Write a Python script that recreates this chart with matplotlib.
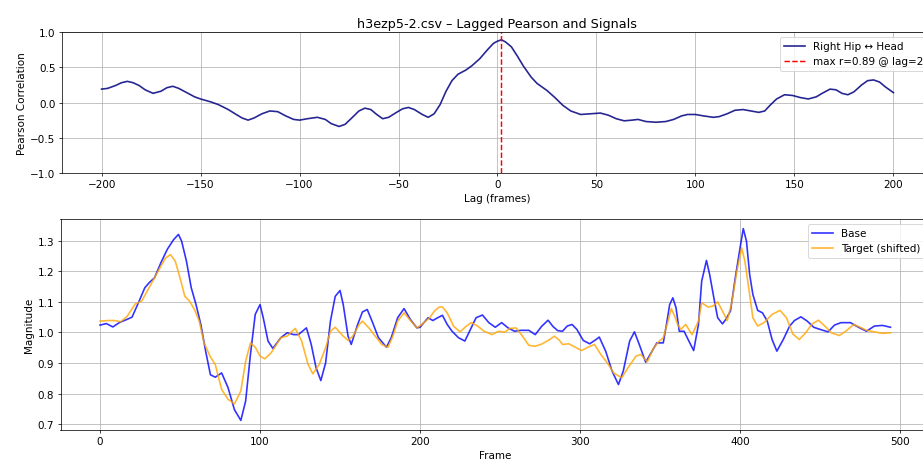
import matplotlib
matplotlib.use("Agg")
import matplotlib.pyplot as plt

# ---- Top panel: lagged Pearson correlation ----
lags = [-200, -197, -193, -190, -187, -184, -181, -178, -174, -170, -167, -164, -161,
        -157, -153, -150, -145, -141, -136, -132, -129, -126, -123, -119, -115, -111,
        -107, -103, -100, -96, -91, -87, -84, -80, -77, -74, -70, -67, -64, -61, -58,
        -55, -51, -48, -45, -42, -38, -35, -32, -29, -26, -23, -20, -16, -13, -9, -5,
        -2, 0, 2, 4, 7, 10, 13, 17, 20, 25, 29, 33, 37, 42, 47, 52, 56, 60, 64, 68,
        71, 75, 80, 85, 89, 93, 96, 100, 104, 109, 112, 116, 120, 124, 128, 132, 135,
        138, 141, 145, 149, 153, 157, 161, 164, 168, 171, 174, 177, 180, 184, 187,
        190, 193, 196, 200]
corr = [0.19, 0.20, 0.24, 0.28, 0.30, 0.28, 0.24, 0.18, 0.13, 0.16, 0.21, 0.23, 0.20,
        0.14, 0.08, 0.05, 0.01, -0.03, -0.10, -0.17, -0.22, -0.25, -0.22, -0.16, -0.12,
        -0.13, -0.19, -0.24, -0.25, -0.23, -0.21, -0.24, -0.30, -0.34, -0.31, -0.23,
        -0.12, -0.08, -0.10, -0.17, -0.23, -0.21, -0.14, -0.09, -0.07, -0.10, -0.17,
        -0.21, -0.16, -0.03, 0.16, 0.31, 0.40, 0.46, 0.52, 0.62, 0.75, 0.84, 0.87, 0.89,
        0.86, 0.79, 0.66, 0.52, 0.36, 0.27, 0.17, 0.07, -0.04, -0.12, -0.17, -0.16,
        -0.15, -0.18, -0.23, -0.26, -0.25, -0.24, -0.27, -0.28, -0.27, -0.24, -0.19,
        -0.17, -0.17, -0.19, -0.21, -0.20, -0.16, -0.11, -0.10, -0.12, -0.14, -0.12,
        -0.03, 0.05, 0.11, 0.10, 0.07, 0.05, 0.08, 0.13, 0.19, 0.18, 0.13, 0.11, 0.15,
        0.25, 0.31, 0.32, 0.29, 0.22, 0.14]
best_lag = 2
best_r = 0.89

# ---- Bottom panel: signals ----
frames_base = [0, 4, 8, 12, 17, 20, 24, 28, 31, 34, 38, 42, 46, 49, 51, 54, 57, 60, 63,
               66, 69, 72, 76, 80, 84, 88, 91, 94, 97, 100, 102, 105, 108, 113, 117, 121,
               124, 129, 132, 135, 138, 141, 144, 147, 150, 152, 155, 157, 161, 164, 167,
               170, 174, 179, 182, 186, 190, 194, 198, 200, 205, 208, 211, 214, 217, 220,
               224, 228, 232, 235, 239, 243, 247, 251, 255, 259, 263, 268, 272, 276, 280,
               283, 286, 289, 292, 295, 298, 302, 306, 310, 312, 316, 320, 324, 327, 331,
               334, 337, 341, 345, 348, 352, 354, 356, 358, 360, 362, 365, 368, 371, 374,
               376, 379, 381, 384, 386, 389, 391, 394, 397, 400, 402, 404, 406, 408, 411,
               414, 417, 420, 423, 427, 431, 434, 438, 442, 446, 450, 455, 459, 463, 469,
               474, 479, 484, 489, 494]
base = [1.024, 1.029, 1.018, 1.032, 1.043, 1.050, 1.097, 1.146, 1.164, 1.178, 1.227,
        1.271, 1.303, 1.320, 1.298, 1.233, 1.146, 1.091, 1.026, 0.939, 0.862, 0.854,
        0.868, 0.820, 0.748, 0.713, 0.776, 0.928, 1.059, 1.091, 1.048, 0.972, 0.948,
        0.983, 0.999, 0.993, 0.993, 1.015, 0.961, 0.885, 0.843, 0.901, 1.037, 1.118,
        1.137, 1.091, 0.988, 0.961, 1.026, 1.067, 1.075, 1.037, 0.983, 0.952, 0.983,
        1.048, 1.078, 1.042, 1.015, 1.017, 1.048, 1.039, 1.048, 1.056, 1.026, 1.004,
        0.983, 0.972, 1.015, 1.048, 1.057, 1.032, 1.017, 1.032, 1.015, 1.004, 1.007,
        1.007, 0.993, 1.020, 1.040, 1.020, 1.006, 1.004, 1.021, 1.026, 1.010, 0.974,
        0.963, 0.977, 0.985, 0.939, 0.874, 0.830, 0.874, 0.972, 1.002, 0.961, 0.903,
        0.939, 0.966, 0.966, 1.026, 1.091, 1.113, 1.080, 1.004, 1.004, 0.972, 0.941,
        1.026, 1.167, 1.235, 1.189, 1.102, 1.048, 1.028, 1.042, 1.070, 1.178, 1.276,
        1.339, 1.298, 1.189, 1.124, 1.072, 1.064, 1.037, 0.977, 0.939, 0.977, 1.021,
        1.039, 1.051, 1.037, 1.017, 1.010, 1.002, 1.024, 1.032, 1.032, 1.017, 1.004,
        1.021, 1.023, 1.017]

frames_target = [0, 5, 9, 13, 17, 22, 26, 30, 34, 38, 41, 44, 47, 50, 53, 56, 59, 62,
                 65, 69, 72, 76, 80, 84, 88, 91, 94, 97, 100, 103, 107, 113, 117, 120,
                 122, 126, 130, 133, 137, 141, 144, 147, 152, 155, 158, 162, 164, 168,
                 172, 176, 180, 183, 186, 190, 194, 198, 201, 206, 209, 212, 214, 217,
                 221, 225, 229, 232, 236, 240, 245, 249, 253, 256, 260, 264, 268, 272,
                 276, 281, 284, 287, 289, 293, 297, 301, 305, 309, 313, 317, 321, 326,
                 330, 335, 338, 342, 346, 349, 352, 355, 357, 359, 361, 363, 366, 370,
                 374, 376, 380, 383, 386, 389, 392, 395, 398, 401, 403, 406, 408, 411,
                 415, 420, 425, 429, 431, 433, 437, 441, 445, 449, 453, 457, 462, 466,
                 471, 475, 479, 484, 489, 494]
target = [1.037, 1.039, 1.039, 1.035, 1.053, 1.093, 1.102, 1.140, 1.178, 1.216, 1.243,
          1.254, 1.233, 1.178, 1.118, 1.102, 1.075, 1.037, 0.966, 0.920, 0.896, 0.814,
          0.782, 0.767, 0.809, 0.906, 0.966, 0.952, 0.923, 0.914, 0.934, 0.983, 0.988,
          1.004, 1.013, 0.972, 0.896, 0.865, 0.896, 0.950, 1.004, 1.017, 0.988, 0.974,
          0.988, 1.026, 1.037, 1.015, 0.988, 0.961, 0.952, 0.988, 1.037, 1.064, 1.039,
          1.015, 1.026, 1.048, 1.070, 1.083, 1.083, 1.064, 1.020, 1.002, 1.021, 1.032,
          1.021, 1.004, 0.993, 1.004, 1.001, 1.013, 1.015, 0.988, 0.958, 0.955, 0.962,
          0.977, 0.988, 0.975, 0.961, 0.963, 0.952, 0.941, 0.952, 0.961, 0.928, 0.901,
          0.868, 0.852, 0.885, 0.923, 0.928, 0.904, 0.950, 0.969, 0.983, 1.037, 1.078,
          1.055, 1.026, 1.010, 1.026, 0.993, 1.037, 1.097, 1.083, 1.086, 1.100, 1.070,
          1.039, 1.102, 1.200, 1.276, 1.233, 1.124, 1.048, 1.021, 1.032, 1.059, 1.072,
          1.048, 1.021, 0.995, 0.977, 0.999, 1.028, 1.040, 1.021, 0.999, 0.990, 1.004,
          1.026, 1.017, 1.007, 1.002, 0.997, 0.999]

title = "h3ezp5-2.csv \u2013 Lagged Pearson and Signals"
pair_label = "Right Hip \u2194 Head"

plt.rcParams["font.size"] = 11.3

W, H = 923, 465
dpi = W / 14.0
fig = plt.figure(figsize=(W / dpi, H / dpi), dpi=dpi)

ax1 = fig.add_axes([62 / W, 1 - 174 / H, (933 - 62) / W, (174 - 33) / H])
ax1.plot(lags, corr, color="navy", alpha=0.85, lw=1.8, label=pair_label)
ax1.axvline(best_lag, color="red", ls="--", lw=1.6,
            label=f"max r={best_r:.2f} @ lag={best_lag}")
ax1.set_ylim(-1, 1)
ax1.set_xlim(-220, 220)
ax1.set_xlabel("Lag (frames)")
ax1.set_ylabel("Pearson Correlation")
ax1.set_title(title, fontsize=14)
ax1.grid(True)
ax1.legend(loc="upper right")

ax2 = fig.add_axes([60.5 / W, 1 - 431 / H, (930 - 60.5) / W, (431 - 220) / H])
ax2.plot(frames_base, base, color="blue", alpha=0.8, lw=1.8, label="Base")
ax2.plot(frames_target, target, color="orange", alpha=0.8, lw=1.8, label="Target (shifted)")
ax2.set_xlabel("Frame")
ax2.set_ylabel("Magnitude")
ax2.grid(True)
ax2.legend(loc="upper right")

fig.savefig("out.png", dpi=dpi)
